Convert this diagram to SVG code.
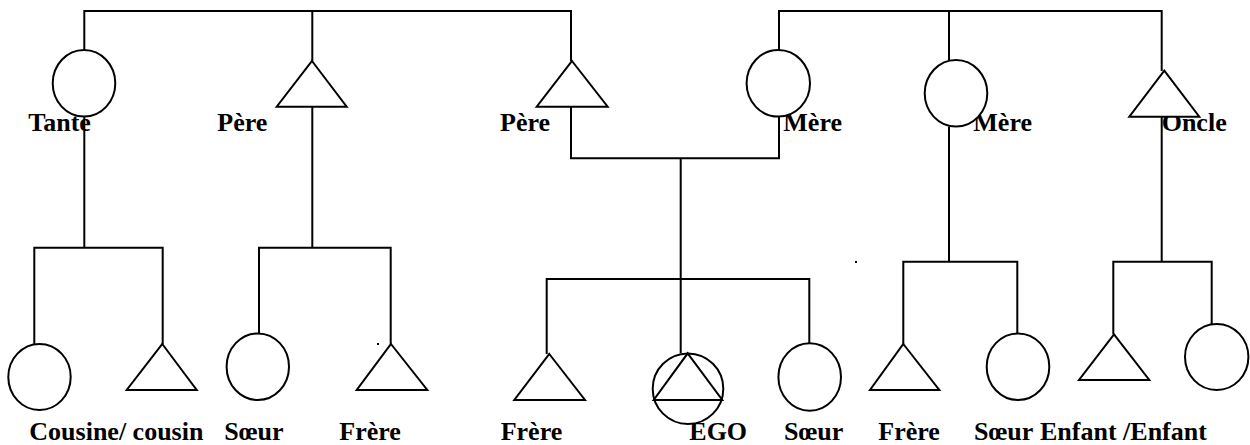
<svg xmlns="http://www.w3.org/2000/svg" width="1250" height="445" viewBox="0 0 1250 445">
<style>
.ln{fill:none;stroke:#000;stroke-width:2}
.sh{fill:#fff;stroke:#000;stroke-width:2}
text{font-family:'Liberation Serif','Times New Roman','DejaVu Serif',serif;font-weight:700;font-size:26px;fill:#000}
</style>
<rect width="1250" height="445" fill="#fff"/>
<g id="connectors">
<path class="ln" d="M84.3,50 V11 H571 V61"/>
<path class="ln" d="M312.3,11 V61"/>
<path class="ln" d="M779,50 V11 H1161.7 V71"/>
<path class="ln" d="M949,11 V60"/>
<path class="ln" d="M84.3,116.7 V247.7"/>
<path class="ln" d="M34.3,344 V247.7 H162.7 V344"/>
<path class="ln" d="M312.3,106.7 V247.7"/>
<path class="ln" d="M259,333.3 V247.7 H390.7 V344"/>
<path class="ln" d="M571,106.7 V158.3 H779 V116.7"/>
<path class="ln" d="M680.7,158.3 V353.3"/>
<path class="ln" d="M546.7,354 V279 H809.3 V343.3"/>
<path class="ln" d="M949,126.7 V261.7"/>
<path class="ln" d="M903.3,344 V261.7 H1017.3 V333.3"/>
<path class="ln" d="M1161.7,116.7 V261.7"/>
<path class="ln" d="M1113.3,334.3 V261.7 H1211.7 V324"/>
</g>
<g id="dots">
<rect x="377" y="343" width="2" height="2" fill="#000"/>
<rect x="855" y="261" width="2" height="2" fill="#000"/>
</g>
<g id="tante"><text font-family="Liberation Serif, serif" x="28.3" y="131">Tante</text><ellipse class="sh" cx="84" cy="83.3" rx="31.3" ry="33.3"/></g>
<g id="pere1"><text font-family="Liberation Serif, serif" x="217.3" y="131">Père</text><polygon class="sh" points="312,61 346.7,106.7 276.7,106.7"/></g>
<g id="pere2"><text font-family="Liberation Serif, serif" x="500" y="131">Père</text><polygon class="sh" points="572,61 607.7,106.7 536.7,106.7"/></g>
<g id="mere1"><text font-family="Liberation Serif, serif" x="783.3" y="131">Mère</text><ellipse class="sh" cx="778.3" cy="83.3" rx="31.7" ry="33.3"/></g>
<g id="mere2"><text font-family="Liberation Serif, serif" x="973.3" y="131">Mère</text><ellipse class="sh" cx="956" cy="93.3" rx="31.3" ry="33.3"/></g>
<g id="oncle"><text font-family="Liberation Serif, serif" x="1161.7" y="131">Oncle</text><polygon class="sh" points="1164.3,70.7 1199.3,116.7 1129.3,116.7"/></g>
<g id="cousine"><ellipse class="sh" cx="39.5" cy="377" rx="31.2" ry="33"/></g>
<g id="cousin"><polygon class="sh" points="162.3,344 196.7,390 126.7,390"/></g>
<g id="cousins-label"><text font-family="Liberation Serif, serif" x="29.3" y="440">Cousine/ cousin</text></g>
<g id="soeur1"><ellipse class="sh" cx="257.8" cy="366.7" rx="31.2" ry="33.3"/><text font-family="Liberation Serif, serif" x="224.3" y="440">Sœur</text></g>
<g id="frere1"><polygon class="sh" points="391,344 427.3,390 356.7,390"/><text font-family="Liberation Serif, serif" x="339.3" y="440">Frère</text></g>
<g id="frere2"><polygon class="sh" points="549.3,354 585,400 514.3,400"/><text font-family="Liberation Serif, serif" x="500.7" y="440">Frère</text></g>
<g id="ego"><text font-family="Liberation Serif, serif" x="689.3" y="440">EGO</text><circle class="sh" cx="688" cy="388.7" r="35.3"/><polygon class="ln" points="687.7,353.3 722.3,400 653.7,400"/></g>
<g id="soeur2"><ellipse class="sh" cx="809.7" cy="377" rx="31.3" ry="33.7"/><text font-family="Liberation Serif, serif" x="784" y="440">Sœur</text></g>
<g id="frere3"><polygon class="sh" points="903.3,344 939.3,390 870,390"/><text font-family="Liberation Serif, serif" x="878.3" y="440">Frère</text></g>
<g id="soeur3"><ellipse class="sh" cx="1018" cy="366.7" rx="31.3" ry="33.3"/><text font-family="Liberation Serif, serif" x="974" y="440">Sœur</text></g>
<g id="enfant1"><polygon class="sh" points="1114,334.3 1149.3,380 1079,380"/></g>
<g id="enfant2"><ellipse class="sh" cx="1216.7" cy="357" rx="31.7" ry="33"/></g>
<g id="enfants-label"><text font-family="Liberation Serif, serif" x="1040" y="440">Enfant /Enfant</text></g>
</svg>
